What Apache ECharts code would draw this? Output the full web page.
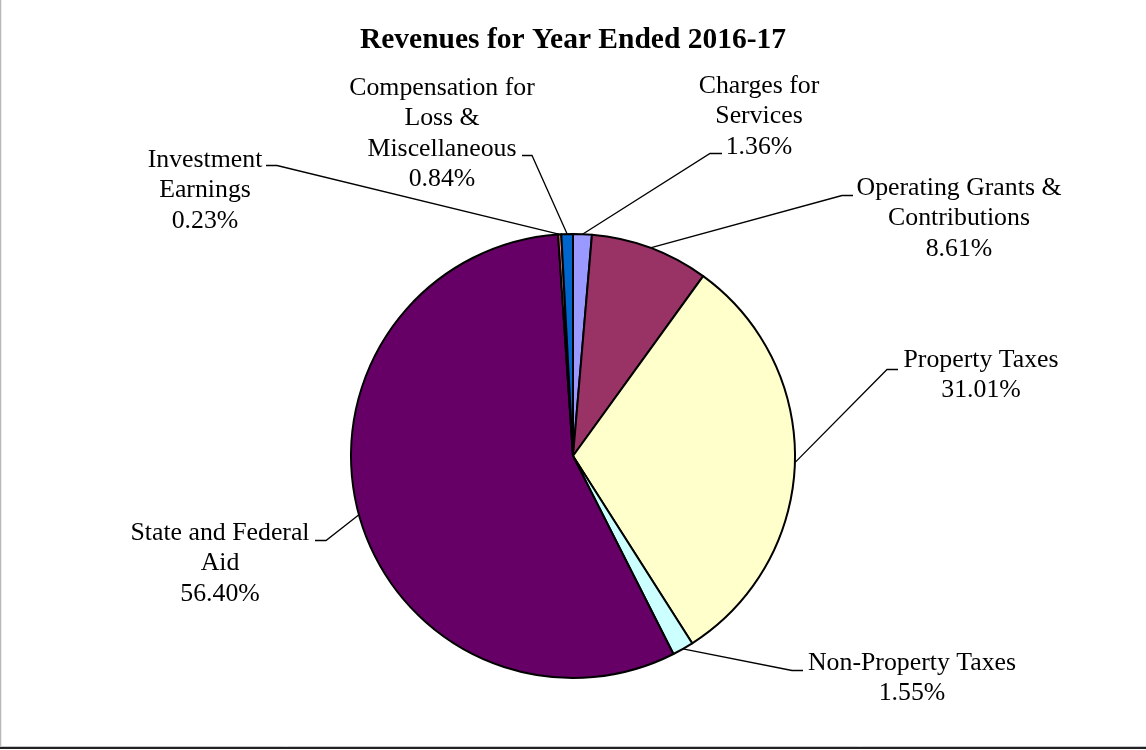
<!DOCTYPE html>
<html>
<head>
<meta charset="utf-8">
<script src="https://cdn.jsdelivr.net/npm/echarts@6/dist/echarts.min.js"></script>
<style>
html,body{margin:0;padding:0;background:#fff;}
#chart{width:1146px;height:750px;}
</style>
</head>
<body>
<div id="chart"></div>
<script>
// Data (percent of revenues), clockwise from 12 o'clock
var categories = [
  'Charges for\nServices',
  'Operating Grants &\nContributions',
  'Property Taxes',
  'Non-Property Taxes',
  'State and Federal\nAid',
  'Investment\nEarnings',
  'Compensation for\nLoss &\nMiscellaneous'
];
var values = [1.36, 8.61, 31.01, 1.55, 56.40, 0.23, 0.84];
var colors = ['#9999FF', '#993366', '#FFFFCC', '#CCFFFF', '#660066', '#FF8080', '#0066CC'];

// Label placement (layout only): text centre x, first-line centre y, leader elbow, leader end
var labelPos = [
  {x: 759, y: 86,  elbow: [710, 153.5], end: [722, 153.5]},
  {x: 959, y: 188, elbow: [842, 195.5], end: [853, 195.5]},
  {x: 981, y: 360, elbow: [887, 369.5], end: [898, 369.5]},
  {x: 912, y: 663, elbow: [792, 670.5], end: [803, 670.5]},
  {x: 220, y: 533, elbow: [326, 540.5], end: [315, 540.5]},
  {x: 205, y: 160, elbow: [277, 165.5], end: [266, 165.5]},
  {x: 442, y: 88,  elbow: [532, 155.5], end: [522, 155.5]}
];

var LH = 30.5;
var chart = echarts.init(document.getElementById('chart'));
var data = categories.map(function (c, i) {
  return { name: c, value: values[i], itemStyle: { color: colors[i] } };
});

chart.setOption({
  animation: false,
  backgroundColor: '#ffffff',
  title: {
    text: 'Revenues for Year Ended 2016-17',
    left: 'center',
    top: 25,
    padding: 0,
    textStyle: {
      fontFamily: 'Liberation Serif',
      fontWeight: 'bold',
      fontSize: 29.5,
      lineHeight: 31,
      color: '#000'
    }
  },
  graphic: [
    { type: 'line', shape: { x1: 0.5, y1: 0, x2: 0.5, y2: 747 }, style: { stroke: '#b8b8b8', lineWidth: 1.5 } },
    { type: 'line', shape: { x1: 0, y1: 746.5, x2: 1146, y2: 746.5 }, style: { stroke: '#c8c8c8', lineWidth: 1 } },
    { type: 'line', shape: { x1: 0, y1: 748, x2: 1146, y2: 748 }, style: { stroke: '#222', lineWidth: 2 } }
  ],
  series: [{
    type: 'pie',
    center: [573, 456],
    radius: [0, 222],
    startAngle: 90,
    clockwise: true,
    avoidLabelOverlap: false,
    minAngle: 0,
    data: data,
    itemStyle: { borderColor: '#000', borderWidth: 2 },
    emphasis: { disabled: true },
    label: {
      show: true,
      position: 'outside',
      fontFamily: 'Liberation Serif',
      fontSize: 25.8,
      lineHeight: LH,
      color: '#000',
      align: 'center',
      formatter: function (p) {
        return p.name + '\n' + values[p.dataIndex].toFixed(2) + '%';
      }
    },
    labelLine: {
      show: true,
      length: 20,
      length2: 10,
      lineStyle: { color: '#000', width: 1.3 }
    },
    labelLayout: function (params) {
      var lp = labelPos[params.dataIndex];
      var pts = params.labelLinePoints;
      var start = pts && pts[0] ? pts[0] : lp.elbow;
      return {
        x: lp.x,
        y: lp.y - LH / 2,
        align: 'center',
        verticalAlign: 'top',
        labelLinePoints: [start, lp.elbow, lp.end]
      };
    }
  }]
});
</script>
</body>
</html>
